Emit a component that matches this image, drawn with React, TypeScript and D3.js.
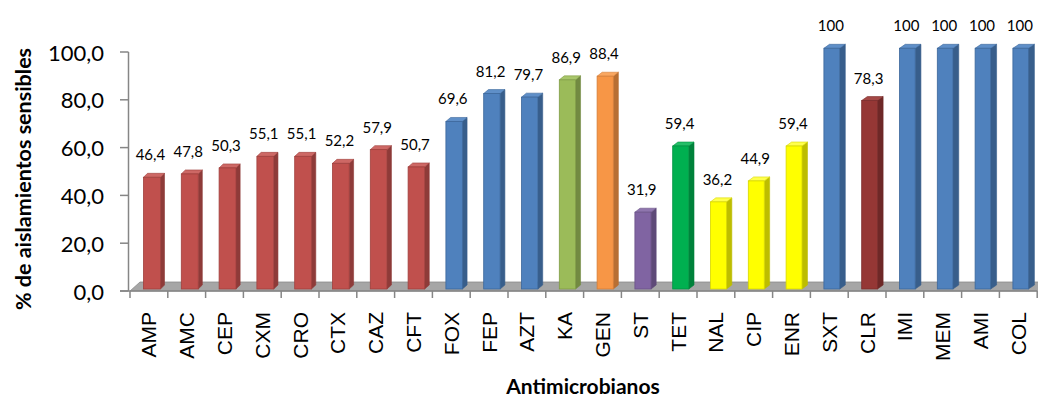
import React from "react";
import * as d3 from "d3";

// Antimicrobial susceptibility: percentage of sensitive isolates per drug
const categories = [
  "AMP", "AMC", "CEP", "CXM", "CRO", "CTX", "CAZ", "CFT", "FOX", "FEP", "AZT", "KA",
  "GEN", "ST", "TET", "NAL", "CIP", "ENR", "SXT", "CLR", "IMI", "MEM", "AMI", "COL",
];
const values = [
  46.4, 47.8, 50.3, 55.1, 55.1, 52.2, 57.9, 50.7, 69.6, 81.2, 79.7, 86.9,
  88.4, 31.9, 59.4, 36.2, 44.9, 59.4, 100, 78.3, 100, 100, 100, 100,
];
// colour group of each bar
const groups = [
  "red", "red", "red", "red", "red", "red", "red", "red", "blue", "blue", "blue", "olive",
  "orange", "purple", "green", "yellow", "yellow", "yellow", "blue", "darkred", "blue", "blue", "blue", "blue",
];
const yTicks = [0, 20, 40, 60, 80, 100];

const palette: Record<string, { front: string; side: string; top: string; edge: string }> = {
  red: { front: "#C0504D", side: "#8E3B39", top: "#CD6865", edge: "#A0403D" },
  blue: { front: "#4F81BD", side: "#385E8B", top: "#5F8FC8", edge: "#3B679B" },
  olive: { front: "#9BBB59", side: "#728A41", top: "#A8C66A", edge: "#7F9C45" },
  orange: { front: "#F79646", side: "#B86F33", top: "#F9A761", edge: "#D47D37" },
  purple: { front: "#8064A2", side: "#5E4A78", top: "#8F76AE", edge: "#6A5287" },
  green: { front: "#00B050", side: "#00823B", top: "#25BE68", edge: "#009242" },
  yellow: { front: "#FFFF00", side: "#BDBD00", top: "#FFFF4D", edge: "#D6D600" },
  darkred: { front: "#953735", side: "#6E2827", top: "#A44846", edge: "#7C2D2C" },
};

const fmt = (v: number) => (v === 100 ? "100" : v.toFixed(1).replace(".", ","));

export default function App() {
  const width = 1038;
  const height = 399;
  const step = 37.8;
  const x0 = 130;
  const x = d3
    .scaleBand<string>()
    .domain(categories)
    .range([x0, x0 + step * categories.length])
    .padding(0);
  // scale for the tick labels on the wall
  const yAxis = d3.scaleLinear().domain([0, 100]).range([291, 52]);
  // scale for the front face of the bars
  const yBar = d3.scaleLinear().domain([0, 100]).range([289, 48.3]);
  const n = categories.length;
  const font = "Lato, 'Open Sans', sans-serif";
  const floorRight = x0 + step * n;

  return (
    <svg width={width} height={height} style={{ display: "block", position: "absolute", left: 0, top: 0 }}>
      <rect width={width} height={height} fill="#fff" />
      {/* floor */}
      <polygon
        points={`130,291 ${floorRight},291 ${floorRight + 10},282 140,282`}
        fill="#A6A6A6"
        stroke="#8C8C8C"
        strokeWidth={0.8}
      />
      {/* value axis */}
      <line x1={128.5} x2={128.5} y1={yAxis(100)} y2={yAxis(0)} stroke="#868686" strokeWidth={1.5} />
      {yTicks.map((t) => (
        <g key={t}>
          <line x1={120} x2={128.5} y1={yAxis(t)} y2={yAxis(t)} stroke="#868686" strokeWidth={1.5} />
          <text
            x={104}
            y={yAxis(t)}
            textAnchor="end"
            dominantBaseline="central"
            fontFamily={font}
            fontSize={22}
            fill="#000"
          >
            {t.toFixed(1).replace(".", ",")}
          </text>
        </g>
      ))}
      {/* category axis */}
      <line x1={120} x2={floorRight} y1={291} y2={291} stroke="#868686" strokeWidth={1.5} />
      {d3.range(n + 1).map((i) => (
        <line
          key={i}
          x1={x0 + i * step}
          x2={x0 + i * step}
          y1={291}
          y2={298}
          stroke="#868686"
          strokeWidth={1.5}
        />
      ))}
      {/* bars */}
      {categories.map((c, i) => {
        const v = values[i];
        const col = palette[groups[i]];
        const bx = (x(c) as number) + 13.5;
        const bw = 17 - (1.5 * i) / (n - 1);
        const dx = 4 + (2 * i) / (n - 1);
        const dy = 4;
        const yt = yBar(v);
        const yb = yBar(0);
        const cx = (x(c) as number) + x.bandwidth() / 2 + 1.5;
        return (
          <g key={c}>
            <polygon
              points={`${bx + bw},${yt} ${bx + bw + dx},${yt - dy} ${bx + bw + dx},${yb - dy} ${bx + bw},${yb}`}
              fill={col.side}
              stroke={col.side}
              strokeWidth={0.6}
            />
            <polygon
              points={`${bx},${yt} ${bx + dx},${yt - dy} ${bx + bw + dx},${yt - dy} ${bx + bw},${yt}`}
              fill={col.top}
              stroke={col.edge}
              strokeWidth={0.6}
            />
            <rect x={bx} y={yt} width={bw} height={yb - yt} fill={col.front} stroke={col.edge} strokeWidth={0.8} />
            <text x={cx} y={yt - 17} textAnchor="middle" fontFamily={font} fontSize={15} fill="#000">
              {fmt(v)}
            </text>
          </g>
        );
      })}
      {/* category labels */}
      {categories.map((c) => {
        const cx = (x(c) as number) + x.bandwidth() / 2;
        return (
          <text
            key={c}
            transform={`translate(${cx + 7.5},312) rotate(-90)`}
            textAnchor="end"
            fontFamily="'Liberation Sans', Arial, sans-serif"
            fontSize={21}
            fill="#000"
          >
            {c}
          </text>
        );
      })}
      {/* axis titles */}
      <text
        transform="translate(31,179) rotate(-90)"
        textAnchor="middle"
        fontFamily={font}
        fontWeight="bold"
        fontSize={21.5}
        fill="#000"
      >
        % de aislamientos sensibles
      </text>
      <text x={583} y={394} textAnchor="middle" fontFamily={font} fontWeight="bold" fontSize={21} fill="#000">
        Antimicrobianos
      </text>
    </svg>
  );
}
